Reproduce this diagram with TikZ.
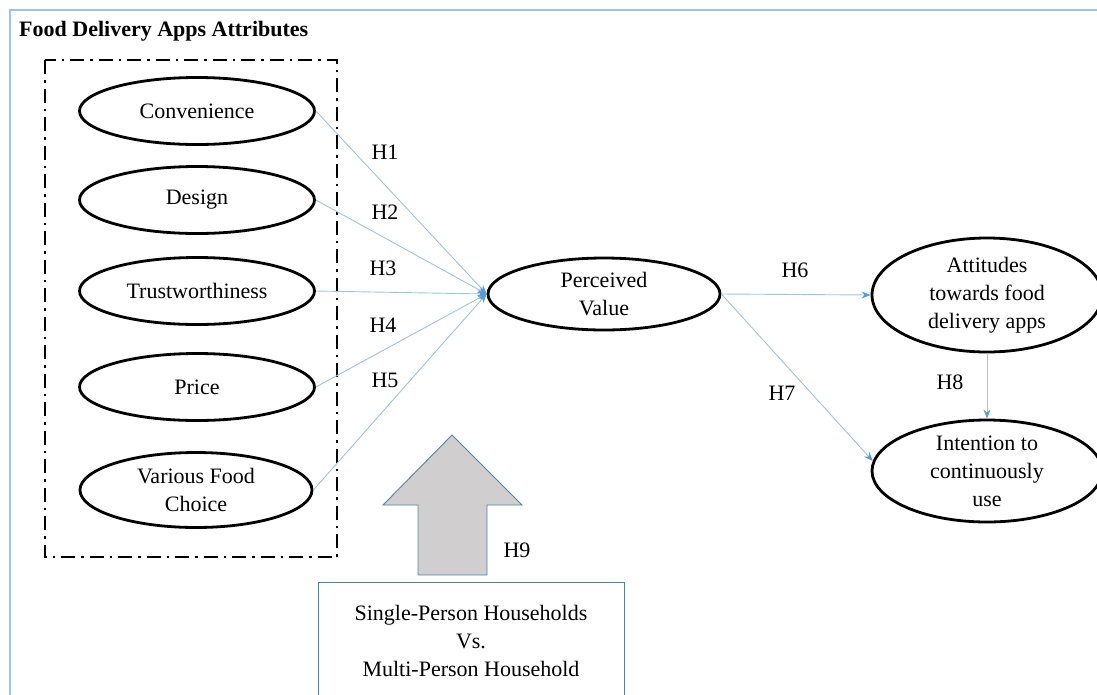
\documentclass[tikz,border=0pt]{standalone}
\usepackage{fontspec}
\setmainfont{Liberation Serif}
\usetikzlibrary{shapes.geometric,arrows.meta}
\definecolor{linkblue}{RGB}{157,195,230}
\definecolor{tipblue}{RGB}{91,155,213}
\definecolor{boxblue}{RGB}{84,130,168}
\definecolor{arrowgray}{RGB}{208,206,206}
\tikzset{
  factor/.style={draw,ellipse,line width=2.8pt,minimum width=235pt,minimum height=67pt,
    inner sep=0pt,align=center,font=\fontsize{22}{28}\selectfont},
  link/.style={draw=linkblue,line width=0.9pt,-{Stealth[length=9pt,width=7pt,color=tipblue]}},
  hyp/.style={font=\fontsize{22}{26}\selectfont},
}
\begin{document}
\begin{tikzpicture}[x=1pt,y=-1pt]
  \useasboundingbox (0,0) rectangle (1097,694);
  \clip (0,0) rectangle (1097,694);
  % outer frame
  \draw[linkblue,line width=1.2pt] (10,10) rectangle (1120,720);
  \node[anchor=west,inner sep=0pt,font=\fontsize{22}{26}\selectfont\bfseries] (title) at (19,31) {Food Delivery Apps Attributes};
  \draw[line width=2.6pt,dash pattern=on 14pt off 6pt on 2.5pt off 6pt] (45,60) rectangle (337,557);
  % attributes
  \node[factor] (conv) at (197,111) {Convenience};
  \node[factor] (des) at (197,200) {Design};
  \node[factor] (trust) at (197,291) {Trustworthiness};
  \node[factor] (price) at (197,387) {Price};
  \node[factor,minimum width=232pt,minimum height=75pt] (food) at (196,490) {Various Food\\Choice};
  \node[factor,minimum width=232pt,minimum height=72pt] (pv) at (604,294) {Perceived\\Value};
  \node[factor,minimum width=230pt,minimum height=114pt] (att) at (987,295) {Attitudes\\towards food\\delivery apps};
  \node[factor,minimum width=230pt,minimum height=102pt] (int) at (987,471) {Intention to\\continuously\\use};
  \foreach \s in {conv,des,trust,price,food}{\draw[link] (\s.east) -- (pv.west);}
  \draw[link] (pv.east) -- (att.west);
  \draw[link] (pv.east) -- (int.175);
  \draw[link] (att.south) -- (int.north);
  \foreach \x/\y [count=\i] in {385/152,385/212,383/268,383/325,385/380,795/270,782/393,950/382,517/550}
    {\node[hyp] (h\i) at (\x,\y) {H\i};}
  % moderator
  \draw[draw=boxblue,fill=arrowgray,line width=0.9pt] (418,575) -- (418,505) -- (383,505) -- (452,435)
    -- (522,505) -- (487,505) -- (487,575) -- cycle;
  \node[draw=boxblue,line width=0.9pt,minimum width=306pt,minimum height=118pt,align=center,
    font=\fontsize{22}{28}\selectfont] (hh) at (471,641) {Single-Person Households\\Vs.\\Multi-Person Household};
\end{tikzpicture}
\end{document}
